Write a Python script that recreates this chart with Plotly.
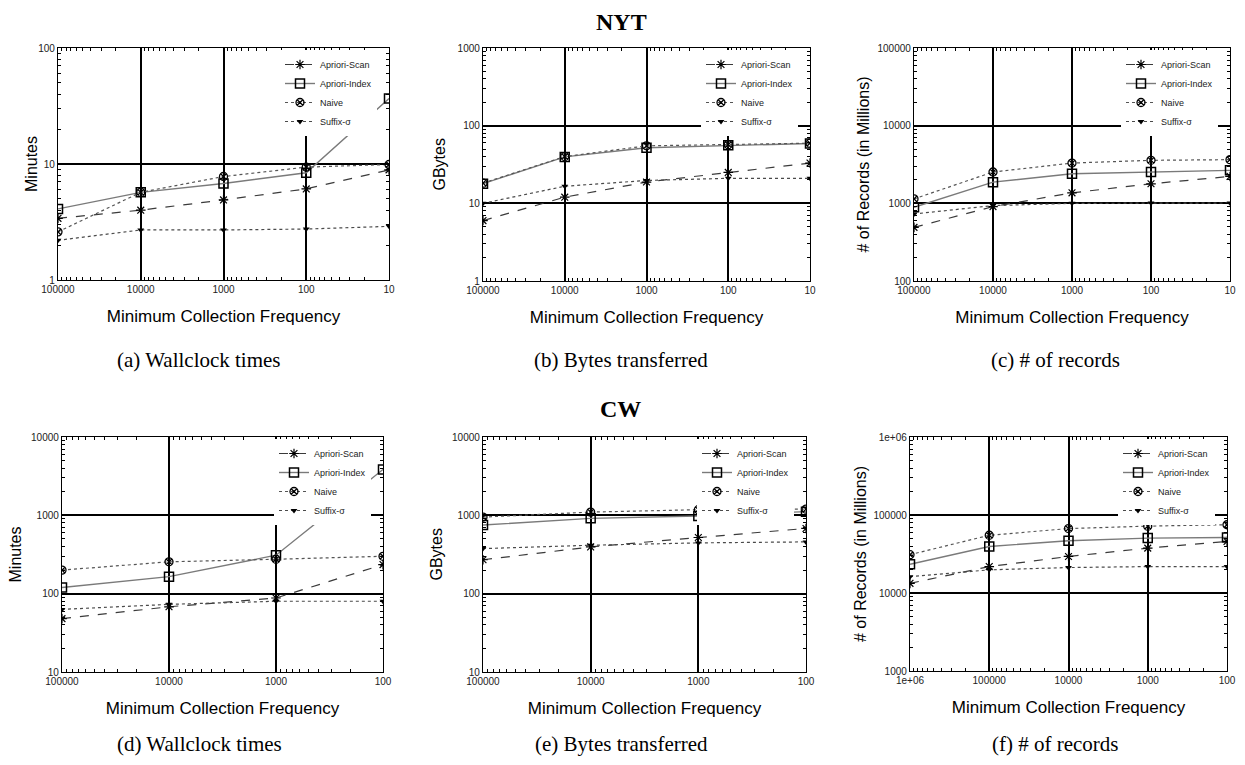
import math
import plotly.graph_objects as go

# ---------------- data ----------------
series_names = ["Apriori-Scan", "Apriori-Index", "Naive", "Suffix-\u03c3"]

# NYT
nyt_freq = [100000, 10000, 1000, 100, 10]
nyt_minutes_scan = [3.4, 4.0, 4.9, 6.1, 8.9]
nyt_minutes_index = [4.1, 5.7, 6.8, 8.4, 36.7]
nyt_minutes_naive = [2.6, 5.7, 7.8, 9.4, 9.9]
nyt_minutes_suffix = [2.2, 2.7, 2.7, 2.75, 2.9]

nyt_gbytes_scan = [6.0, 12.0, 18.8, 25.0, 33.0]
nyt_gbytes_index = [17.9, 39.6, 52.0, 56.0, 59.0]
nyt_gbytes_naive = [18.2, 40.0, 55.0, 57.0, 59.5]
nyt_gbytes_suffix = [10.0, 16.6, 19.7, 21.0, 21.0]

nyt_records_scan = [490, 908, 1365, 1785, 2220]
nyt_records_index = [890, 1875, 2400, 2530, 2660]
nyt_records_naive = [1140, 2530, 3300, 3580, 3650]
nyt_records_suffix = [730, 935, 1000, 1010, 1010]

# CW
cw_freq = [100000, 10000, 1000, 100]
cw_minutes_scan = [48, 68, 88, 235]
cw_minutes_index = [120, 165, 310, 3850]
cw_minutes_naive = [200, 255, 275, 300]
cw_minutes_suffix = [63, 73, 80, 80]

cw_gbytes_scan = [271, 395, 521, 680]
cw_gbytes_index = [751, 915, 980, 1115]
cw_gbytes_naive = [950, 1100, 1180, 1200]
cw_gbytes_suffix = [376, 415, 445, 458]

cw_rec_freq = [1000000, 100000, 10000, 1000, 100]
cw_records_scan = [13300, 21800, 29400, 37600, 45800]
cw_records_index = [23400, 39500, 46800, 50600, 51500]
cw_records_naive = [31000, 55000, 67000, 72000, 75000]
cw_records_suffix = [16200, 19800, 21200, 21800, 21800]

# tick labels
ticks_1_100 = [1, 10, 100]
ticks_1_1000 = [1, 10, 100, 1000]
ticks_100_100000 = [100, 1000, 10000, 100000]
ticks_10_10000 = [10, 100, 1000, 10000]
ticks_1000_1e6 = [1000, 10000, 100000, 1000000]
ticks_1000_1e6_text = ["1000", "10000", "100000", "1e+06"]
xticks_nyt = [100000, 10000, 1000, 100, 10]
xticks_cw = [100000, 10000, 1000, 100]
xticks_cw_rec = [1000000, 100000, 10000, 1000, 100]
xticks_cw_rec_text = ["1e+06", "100000", "10000", "1000", "100"]

captions = ["(a) Wallclock times", "(b) Bytes transferred", "(c) # of records",
            "(d) Wallclock times", "(e) Bytes transferred", "(f) # of records"]
ytitles = ["Minutes", "GBytes", "# of Records (in Millions)",
           "Minutes", "GBytes", "# of Records (in Millions)"]
xtitle = "Minimum Collection Frequency"

# ---------------- layout geometry (pixels of the 1245x765 window) ----------------
OFF = 8                      # default page body margin
W, H = 1245 - 2 * OFF, 765 - 2 * OFF


def fx(px):
    return (px - OFF) / W


def fy(py):
    return 1 - (py - OFF) / H


boxes = [  # left, right, top, bottom
    (58, 389, 48, 280), (483, 810, 48, 281), (914, 1230, 48, 281),
    (62, 383, 437, 672), (483, 806, 437, 672), (910, 1227, 437, 671),
]
ytitle_x = [31, 439, 863, 15, 436, 860]
caption_x = [199, 621, 1055, 199, 621, 1055]

styles = [
    dict(line=dict(color="#3a3a3a", width=1.2, dash="dash"),
         marker=dict(symbol="asterisk-open", size=8, color="black", line=dict(color="black", width=1.2))),
    dict(line=dict(color="#7a7a7a", width=1.4, dash="solid"),
         marker=dict(symbol="square-open", size=9, color="black", line=dict(color="black", width=1.5))),
    dict(line=dict(color="#555555", width=1.2, dash="3px,3px"),
         marker=dict(symbol="circle-x-open", size=8, color="black", line=dict(color="black", width=1.3))),
    dict(line=dict(color="#4a4a4a", width=1.2, dash="dot"),
         marker=dict(symbol="triangle-down", size=6, color="black", line=dict(color="black", width=0))),
]

panels = [
    (nyt_freq, [nyt_minutes_scan, nyt_minutes_index, nyt_minutes_naive, nyt_minutes_suffix],
     xticks_nyt, [str(v) for v in xticks_nyt], ticks_1_100, [str(v) for v in ticks_1_100]),
    (nyt_freq, [nyt_gbytes_scan, nyt_gbytes_index, nyt_gbytes_naive, nyt_gbytes_suffix],
     xticks_nyt, [str(v) for v in xticks_nyt], ticks_1_1000, [str(v) for v in ticks_1_1000]),
    (nyt_freq, [nyt_records_scan, nyt_records_index, nyt_records_naive, nyt_records_suffix],
     xticks_nyt, [str(v) for v in xticks_nyt], ticks_100_100000, [str(v) for v in ticks_100_100000]),
    (cw_freq, [cw_minutes_scan, cw_minutes_index, cw_minutes_naive, cw_minutes_suffix],
     xticks_cw, [str(v) for v in xticks_cw], ticks_10_10000, [str(v) for v in ticks_10_10000]),
    (cw_freq, [cw_gbytes_scan, cw_gbytes_index, cw_gbytes_naive, cw_gbytes_suffix],
     xticks_cw, [str(v) for v in xticks_cw], ticks_10_10000, [str(v) for v in ticks_10_10000]),
    (cw_rec_freq, [cw_records_scan, cw_records_index, cw_records_naive, cw_records_suffix],
     xticks_cw_rec, xticks_cw_rec_text, ticks_1000_1e6, ticks_1000_1e6_text),
]

fig = go.Figure()
layout = dict(width=W, height=H, margin=dict(l=0, r=0, t=0, b=0, autoexpand=False),
              paper_bgcolor="white", plot_bgcolor="white",
              font=dict(family="Liberation Sans, Arial, sans-serif", color="black"),
              annotations=[])

tick_font = dict(family="Liberation Sans, Arial, sans-serif", size=10, color="#222")
serif = "Liberation Serif, Times New Roman, serif"

for i, (xs, ys_list, xt, xtt, yt, ytt) in enumerate(panels):
    n = i + 1
    sfx = "" if n == 1 else str(n)
    lg = "legend" if n == 1 else "legend" + str(n)
    left, right, top, bottom = boxes[i]
    for k, ys in enumerate(ys_list):
        fig.add_trace(go.Scatter(
            x=xs, y=ys, mode="lines+markers", name=series_names[k],
            xaxis="x" + sfx, yaxis="y" + sfx, legend=lg,
            line=styles[k]["line"], marker=styles[k]["marker"], showlegend=True))
    common = dict(type="log", automargin=False, showline=True, linecolor="black", linewidth=1.3,
                  mirror="ticks",
                  ticks="inside", ticklen=6, tickcolor="black", tickwidth=1.2,
                  showgrid=True, gridcolor="black", gridwidth=1.5, zeroline=False,
                  tickfont=tick_font, ticklabeloverflow="allow",
                  minor=dict(ticks="inside", ticklen=3, tickcolor="black", tickwidth=1, dtick="D1", showgrid=False))
    layout["xaxis" + sfx] = dict(common, domain=[fx(left), fx(right)],
                                 anchor="y" + sfx,
                                 range=[math.log10(max(xt)), math.log10(min(xt))],
                                 tickmode="array", tickvals=xt, ticktext=xtt,
                                 title=dict(text=xtitle, font=dict(size=17), standoff=15))
    layout["yaxis" + sfx] = dict(common, domain=[fy(bottom), fy(top)],
                                 anchor="x" + sfx,
                                 range=[math.log10(min(yt)), math.log10(max(yt))],
                                 tickmode="array", tickvals=yt, ticktext=ytt)
    layout[lg] = dict(x=fx(right - 12), y=fy(top + 2), xanchor="right", yanchor="top",
                      bgcolor="white", borderwidth=0,
                      font=dict(size=9, color="#222", family="Liberation Sans, Arial, sans-serif"),
                      itemwidth=30, tracegroupgap=0)
    # y-axis title
    layout["annotations"].append(dict(
        text=ytitles[i], x=fx(ytitle_x[i]), y=fy((top + bottom) / 2),
        xref="paper", yref="paper", showarrow=False, textangle=-90,
        xanchor="center", yanchor="middle",
        font=dict(family="Liberation Sans, Arial, sans-serif", size=16, color="black")))
    # sub-caption
    if i < 3:
        cap_pos = dict(y=fy(360), yanchor="middle")
    else:
        cap_pos = dict(y=0, yanchor="bottom", borderpad=0)
    layout["annotations"].append(dict(
        text=captions[i], x=fx(caption_x[i]), xref="paper", yref="paper",
        showarrow=False, xanchor="center",
        font=dict(family=serif, size=21, color="black"), **cap_pos))

layout["annotations"].append(dict(text="<b>NYT</b>", x=fx(621), y=1, xref="paper", yref="paper",
                                  showarrow=False, xanchor="center", yanchor="top", borderpad=0,
                                  font=dict(family=serif, size=24, color="black")))
layout["annotations"].append(dict(text="<b>CW</b>", x=fx(620), y=fy(409), xref="paper", yref="paper",
                                  showarrow=False, xanchor="center", yanchor="middle",
                                  font=dict(family=serif, size=24, color="black")))

fig.update_layout(**layout)
fig.write_html("out.html")
